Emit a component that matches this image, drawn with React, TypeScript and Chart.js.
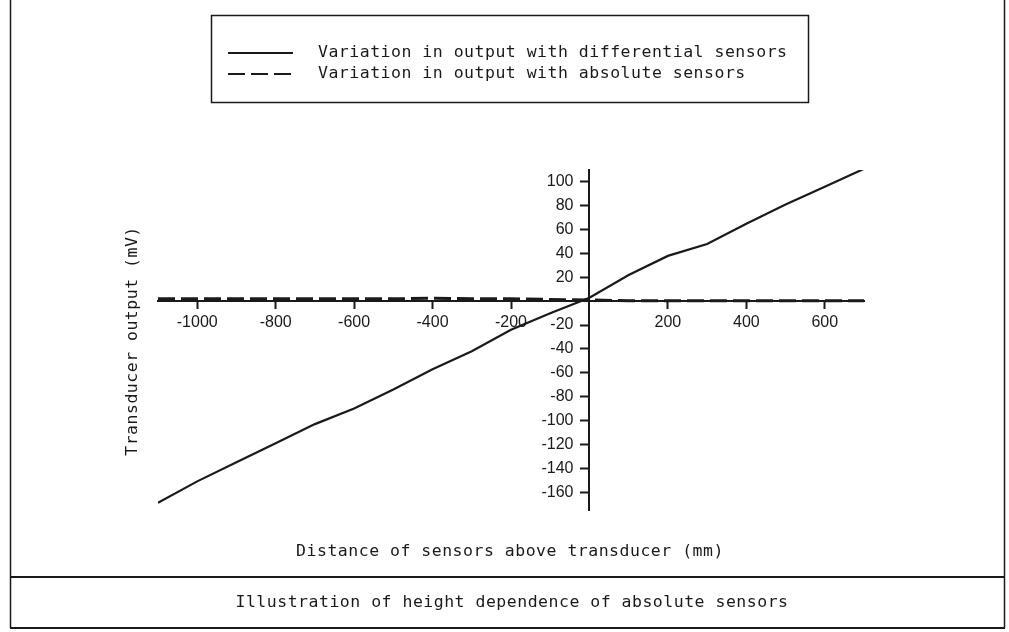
import React, { useEffect, useRef } from 'react';
import { Chart, registerables } from 'chart.js';

Chart.register(...registerables);

// ---- Data ----
const distances = [-1100, -1000, -900, -800, -700, -600, -500, -400, -300, -200, -100, 0, 100, 200, 300, 400, 500, 600, 700];
const differentialOutput = [-169, -151, -135, -119, -103, -90, -74, -57, -42, -24, -10, 3, 22, 38, 48, 65, 81, 96, 111];
const absoluteOutput = [2, 2, 2, 2, 2, 2, 2, 2.5, 2, 2, 1.5, 1, 0.5, 0.5, 0.5, 0.5, 0.5, 0.5, 0.5];
const xTickValues = [-1000, -800, -600, -400, -200, 200, 400, 600];
const yTickValues = [100, 80, 60, 40, 20, -20, -40, -60, -80, -100, -120, -140, -160];
const seriesLabels = ['Variation in output with differential sensors', 'Variation in output with absolute sensors'];
const xTitle = 'Distance of sensors above transducer (mm)';
const yTitle = 'Transducer output (mV)';
const caption = 'Illustration of height dependence of absolute sensors';

const INK = '#1a1a1a';
const TEXT_FONT = '16.5px "DejaVu Sans Mono"';
const Y_LABEL_SHIFT = 16;

const framePlugin = {
  id: 'framePlugin',
  beforeDraw(chart: any) {
    const ctx = chart.ctx;
    ctx.save();
    ctx.fillStyle = '#ffffff';
    ctx.fillRect(0, 0, chart.width, chart.height);
    ctx.restore();
  },
  afterDraw(chart: any) {
    const ctx: CanvasRenderingContext2D = chart.ctx;
    ctx.save();
    ctx.strokeStyle = INK;
    ctx.fillStyle = INK;

    // outer frame
    ctx.lineWidth = 1.5;
    ctx.beginPath();
    ctx.moveTo(10.5, 0);
    ctx.lineTo(10.5, 628);
    ctx.moveTo(1004.5, 0);
    ctx.lineTo(1004.5, 628);
    ctx.stroke();
    ctx.lineWidth = 2;
    ctx.beginPath();
    ctx.moveTo(10, 577);
    ctx.lineTo(1005, 577);
    ctx.moveTo(10, 628);
    ctx.lineTo(1005, 628);
    ctx.stroke();

    // legend box
    ctx.lineWidth = 1.5;
    ctx.strokeRect(211.5, 15.5, 597, 87);

    ctx.font = TEXT_FONT;
    (ctx as any).letterSpacing = '0.5px';
    ctx.textBaseline = 'middle';

    const rows = [53, 74];
    chart.data.datasets.forEach((ds: any, i: number) => {
      const y = rows[i];
      ctx.save();
      ctx.lineWidth = 1.8;
      ctx.setLineDash(ds.borderDash || []);
      ctx.beginPath();
      ctx.moveTo(228, y);
      ctx.lineTo(293, y);
      ctx.stroke();
      ctx.restore();
      ctx.textAlign = 'left';
      ctx.fillText(ds.label, 318, y);
    });

    // axis titles
    ctx.textAlign = 'center';
    ctx.fillText(xTitle, 510, 552);
    ctx.save();
    ctx.translate(133, 341);
    ctx.rotate(-Math.PI / 2);
    ctx.fillText(yTitle, 0, 0);
    ctx.restore();

    // caption
    ctx.fillText(caption, 512, 603);

    ctx.restore();
  },
};

export default function App() {
  const canvasRef = useRef<HTMLCanvasElement | null>(null);

  useEffect(() => {
    if (!canvasRef.current) return;
    const chart = new Chart(canvasRef.current, {
      type: 'line',
      data: {
        datasets: [
          {
            label: seriesLabels[0],
            data: distances.map((d, i) => ({ x: d, y: differentialOutput[i] })),
            borderColor: INK,
            borderWidth: 2.2,
            pointRadius: 0,
            tension: 0,
            fill: false,
          },
          {
            label: seriesLabels[1],
            data: distances.map((d, i) => ({ x: d, y: absoluteOutput[i] })),
            borderColor: INK,
            borderWidth: 3,
            borderDash: [17, 6],
            pointRadius: 0,
            tension: 0,
            fill: false,
          },
        ],
      },
      options: {
        responsive: false,
        animation: false,
        events: [],
        layout: { padding: { left: 158, right: 145, top: 170, bottom: 122 } },
        plugins: {
          legend: { display: false },
          title: { display: false },
          tooltip: { enabled: false },
        },
        scales: {
          x: {
            type: 'linear',
            min: -1100,
            max: 700,
            position: { y: 0 } as any,
            afterFit: (scale: any) => {
              scale.height = 0;
            },
            afterBuildTicks: (scale: any) => {
              scale.ticks = xTickValues.map((v) => ({ value: v }));
            },
            grid: {
              display: true,
              drawOnChartArea: false,
              drawTicks: true,
              tickLength: 7,
              tickWidth: 2,
              tickColor: INK,
            },
            border: { display: true, color: INK, width: 2 },
            ticks: {
              autoSkip: false,
              maxRotation: 0,
              padding: 5,
              color: INK,
              font: { family: '"Liberation Sans", Arial, sans-serif', size: 16 },
              callback: (v: any) => String(v),
            },
          },
          y: {
            type: 'linear',
            min: -175,
            max: 110,
            position: { x: 0 } as any,
            afterFit: (scale: any) => {
              scale.width = 0;
              if (!scale.__shifted) {
                const orig = scale._computeLabelItems.bind(scale);
                scale._computeLabelItems = (area: any) => {
                  const items = orig(area);
                  items.forEach((it: any) => {
                    it.options.translation = [it.options.translation[0] - Y_LABEL_SHIFT, it.options.translation[1]];
                  });
                  return items;
                };
                scale.__shifted = true;
              }
            },
            afterBuildTicks: (scale: any) => {
              scale.ticks = yTickValues.map((v) => ({ value: v }));
            },
            grid: {
              display: true,
              drawOnChartArea: false,
              drawTicks: true,
              tickLength: 8,
              tickWidth: 2,
              tickColor: INK,
            },
            border: { display: true, color: INK, width: 2 },
            ticks: {
              autoSkip: false,
              padding: 8,
              color: INK,
              font: { family: '"Liberation Sans", Arial, sans-serif', size: 16 },
              callback: (v: any) => String(v),
            },
          },
        },
      },
      plugins: [framePlugin],
    });
    return () => chart.destroy();
  }, []);

  return (
    <div style={{ position: 'fixed', left: 0, top: 0, width: 1009, height: 632, background: '#fff' }}>
      <canvas ref={canvasRef} width={1009} height={632} style={{ display: 'block' }} />
    </div>
  );
}
